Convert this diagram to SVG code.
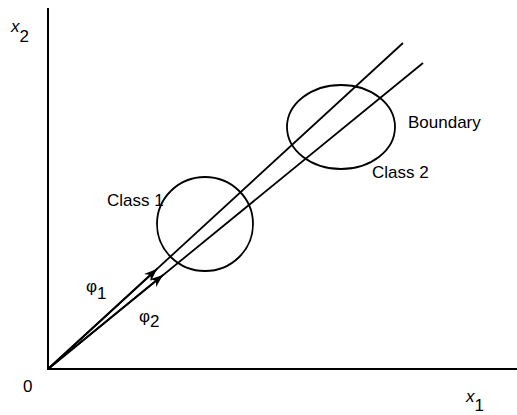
<svg xmlns="http://www.w3.org/2000/svg" width="517" height="415" viewBox="0 0 517 415">
<style>
.ax{stroke:#000;stroke-width:2;fill:none}
.ln{stroke:#000;stroke-width:1.8;fill:none}
.el{stroke:#000;stroke-width:1.8;fill:none}
text{font-family:"Liberation Sans",Arial,sans-serif;font-size:17px;fill:#000}
.it{font-style:italic}
</style>
<defs>
<marker id="ah" markerUnits="userSpaceOnUse" markerWidth="16" markerHeight="12" refX="14" refY="6" orient="auto" viewBox="0 0 16 12">
<path d="M14,6 L1,1 L5,6 L1,11 Z" fill="#000"/>
</marker>
</defs>
<g id="axes">
<line class="ax" x1="48" y1="8" x2="48" y2="370"/>
<line class="ax" x1="47" y1="369" x2="517" y2="369"/>
<text x="11" y="32" class="it">x<tspan dy="10" font-style="normal">2</tspan></text>
<text x="466" y="402" class="it">x<tspan dy="9" font-style="normal">1</tspan></text>
<text x="23" y="392">0</text>
</g>
<g id="class1">
<ellipse class="el" cx="205" cy="224" rx="48" ry="47"/>
<text x="107" y="206">Class 1</text>
</g>
<g id="class2">
<ellipse class="el" cx="341" cy="127" rx="54" ry="42"/>
<text x="372" y="178">Class 2</text>
</g>
<g id="boundary">
<text x="408" y="128">Boundary</text>
</g>
<g id="connectors">
<line class="ln" x1="48" y1="369" x2="403" y2="43"/>
<line class="ln" x1="48" y1="369" x2="423" y2="63"/>
<line class="ln" x1="48" y1="369" x2="157" y2="269" marker-end="url(#ah)"/>
<line class="ln" x1="48" y1="369" x2="163" y2="275" marker-end="url(#ah)"/>
</g>
<g id="labels">
<text x="86" y="292" font-size="15">φ<tspan dy="7">1</tspan></text>
<text x="139" y="322" font-size="15">φ<tspan dy="5" font-size="17">2</tspan></text>
</g>
</svg>
